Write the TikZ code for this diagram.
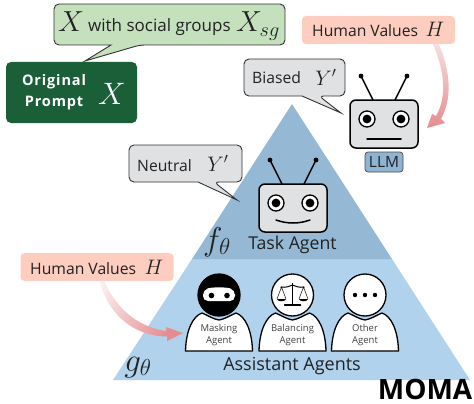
\RequirePackage{fix-cm}
\documentclass[tikz,border=0pt]{standalone}
\usepackage{fontspec}
\setmainfont{Open Sans}
\usetikzlibrary{calc}
\definecolor{upperblue}{HTML}{95B8D5}
\definecolor{lowerblue}{HTML}{B0D2EC}
\definecolor{bubblegreen}{HTML}{C5E0BC}
\definecolor{darkgreen}{HTML}{1A5F38}
\definecolor{peach}{HTML}{FDCDC0}
\definecolor{bubblegray}{HTML}{E0E1E3}
\definecolor{llmblue}{HTML}{8FB3D3}
\definecolor{arrowred}{HTML}{E58C90}
\definecolor{inkc}{HTML}{222222}
\newcommand{\fs}[1]{\fontsize{#1}{#1}\selectfont}
\tikzset{
  x=1pt,y=-1pt,
  bubble/.style={draw=black!80,line width=0.9pt,rounded corners=5pt},
  label/.style={inner sep=0pt,text=inkc,font=\fs{15.7}},
  robotline/.style={draw=black,line width=1.5pt,line cap=round},
  valuebox/.style={fill=peach,rounded corners=4pt,minimum width=153pt,minimum height=28pt,inner sep=0pt},
  agentbody/.style={draw=black,fill=white,line width=1.3pt,line join=round},
  agenthead/.style={draw=black,fill=white,line width=1.3pt},
  agenttext/.style={inner sep=0pt,align=center,text=black!75,font=\fs{9.5}},
  pics/robot/.style={code={
    \draw[robotline] (-11,-24) -- (-23,-48);
    \draw[robotline] (11,-24) -- (23,-48);
    \fill (-23,-48) circle (2.4);
    \fill (23,-48) circle (2.4);
    \draw[robotline,fill=bubblegray,rounded corners=6pt] (-34,-24) rectangle (34,24);
    \foreach \ex in {-17,17}{
      \draw[black,fill=white,line width=1.3pt] (\ex,-5) circle (8);
      \fill (\ex,-5) circle (4.4);
    }
  }},
  pics/agent/.style={code={
    \draw[agentbody] (-33.5,28) .. controls (-33,7) and (-26,-7) .. (-17,-10) .. controls (-10,-7) and (-6,-4) .. (0,-3) .. controls (6,-4) and (10,-7) .. (17,-10) .. controls (26,-7) and (33,7) .. (33.5,28) -- cycle;
  }}
}
\begin{document}
\begin{tikzpicture}
\useasboundingbox (0,0) rectangle (474,404);
% pyramid
\fill[lowerblue] (192,259) -- (392,259) -- (470,380) -- (113,380) -- cycle;
\fill[upperblue] (292,104) -- (392,259) -- (192,259) -- cycle;

% green bubble
\draw[bubble,fill=bubblegreen] (54,4) -- (285,4) -- (285,45) -- (140,45) [sharp corners] -- (85,61) -- (111,45) [rounded corners=5pt] -- (54,45) -- cycle;
\node[label,anchor=base] (xa) at (71,32) {\fs{29}$X$};
\node[label,anchor=base west,font=\fs{17}] (wsg) at (88,32) {with social groups};
\node[label,anchor=base] (xsg) at (258,32) {\fs{29}$X_{sg}$};

% original prompt
\node[fill=darkgreen,rounded corners=5pt,minimum width=131pt,minimum height=61pt,inner sep=0pt] (prompt) at (71.5,92.5) {};
\node[inner sep=0pt,text=white,align=center,font=\addfontfeature{LetterSpace=6}\fs{14.5}\bfseries] (promptt) at (54,92) {Original\\[6.5pt]Prompt};
\node[inner sep=0pt,text=white,anchor=base] (px) at (112,104) {\fs{31}$X$};

% human values top: arrow
\shade[top color=arrowred!25,bottom color=arrowred,shading angle=0]
  (431,40) .. controls (444,68) and (448,95) .. (436,116)
  -- (432,114) -- (427,128) -- (445,123) -- (441,119)
  .. controls (454,95) and (449,66) .. (437,40) -- cycle;
\node[valuebox] (hvtop) at (378.5,30) {};
\node[label,anchor=base west] (hvtopt) at (312,37) {Human Values};
\node[label,anchor=base] (hvtopm) at (435,37) {\fs{21}$H$};

% human values bottom: arrow
\shade[left color=white,right color=arrowred,shading angle=60]
  (94,243) .. controls (100,290) and (125,325) .. (166,331)
  -- (166,327) -- (183,333) -- (167,341) -- (167,336.5)
  .. controls (118,336) and (90,290) .. (99,243) -- cycle;
\node[valuebox] (hvbot) at (97,267) {};
\node[label,anchor=base west] (hvbott) at (30,274) {Human Values};
\node[label,anchor=base] (hvbotm) at (154,274) {\fs{21}$H$};

% biased bubble
\draw[bubble,fill=bubblegray] (244,59) -- (345,59) -- (345,96) -- (319,96) [sharp corners] -- (341,113) -- (302,96) [rounded corners=5pt] -- (244,96) -- cycle;
\node[label,anchor=base west] (biased) at (252,84) {Biased};
\node[label,anchor=base] (by) at (326,85) {\fs{21}$Y'$};

% neutral bubble
\draw[bubble,fill=bubblegray] (129,145) -- (242,145) -- (242,182) -- (214,182) [sharp corners] -- (237,200) -- (198,182) [rounded corners=5pt] -- (129,182) -- cycle;
\node[label,anchor=base west] (neutral) at (137,171) {Neutral};
\node[label,anchor=base] (ny) at (218,171) {\fs{21}$Y'$};

% LLM robot
\pic at (384,124) {robot};
\draw[robotline] (367,139) -- (401,139);
\node[fill=llmblue,draw=black!70,line width=0.7pt,rounded corners=3pt,minimum width=38pt,minimum height=20pt,inner sep=0pt,font=\fs{15.5},text=inkc] (llm) at (384,162) {LLM};

% Task robot
\pic at (293,208) {robot};
\draw[robotline] (276,220) .. controls (287,224) and (299,224) .. (310,220);
\node[label,font=\fs{17.7}] (task) at (292.5,245) {Task Agent};
\node[label,anchor=base] (ftheta) at (217,250) {\fs{33}$f_\theta$};

% agents
\pic at (219,323) {agent};
\pic at (292.5,323) {agent};
\pic at (365,323) {agent};
\draw[agenthead,fill=black] (219,295) circle (21);
\fill[white,rounded corners=5pt] (203,290) .. controls (212,287) and (226,287) .. (235,290) -- (235,301) -- (203,301) -- cycle;
\fill (211.5,295.5) circle (2.8);
\fill (227,295.5) circle (2.8);
\draw[agenthead] (292.5,295) circle (21);
\draw[agenthead] (365,295) circle (21);
% scales
\begin{scope}[shift={(292.5,295)}]
  \draw[black,line width=1.3pt] (0,-12) -- (0,9);
  \draw[black,line width=1.3pt,line cap=round] (-8,10) -- (8,10);
  \draw[black,line width=1pt] (-12,-8) .. controls (-6,-7) and (-3,-9) .. (0,-10) .. controls (3,-9) and (6,-7) .. (12,-8);
  \draw[black,line width=0.5pt] (-15.5,4) -- (-11,-8) -- (-6.5,4);
  \draw[black,line width=0.5pt] (6.5,4) -- (11,-8) -- (15.5,4);
  \fill (-15.5,4) -- (-6.5,4) .. controls (-7,7) and (-15,7) .. (-15.5,4);
  \fill (6.5,4) -- (15.5,4) .. controls (15,7) and (7,7) .. (6.5,4);
\end{scope}
\foreach \dx in {-10,0,10} \fill (365+\dx,295) circle (2.2);
\node[agenttext] (maskt) at (219,335) {Masking\\[2.5pt]Agent};
\node[agenttext] (balt) at (292.5,335) {Balancing\\[2.5pt]Agent};
\node[agenttext] (othert) at (365,335) {Other\\[2.5pt]Agent};
\node[label,font=\fs{18}] (assist) at (292,366) {Assistant Agents};
\node[label,anchor=base] (gtheta) at (138,371) {\fs{33}$g_\theta$};

% title
\node[inner sep=0pt,anchor=base east,font=\fs{28}\bfseries,text=black] (moma) at (472.5,399) {MOMA};
\end{tikzpicture}
\end{document}
